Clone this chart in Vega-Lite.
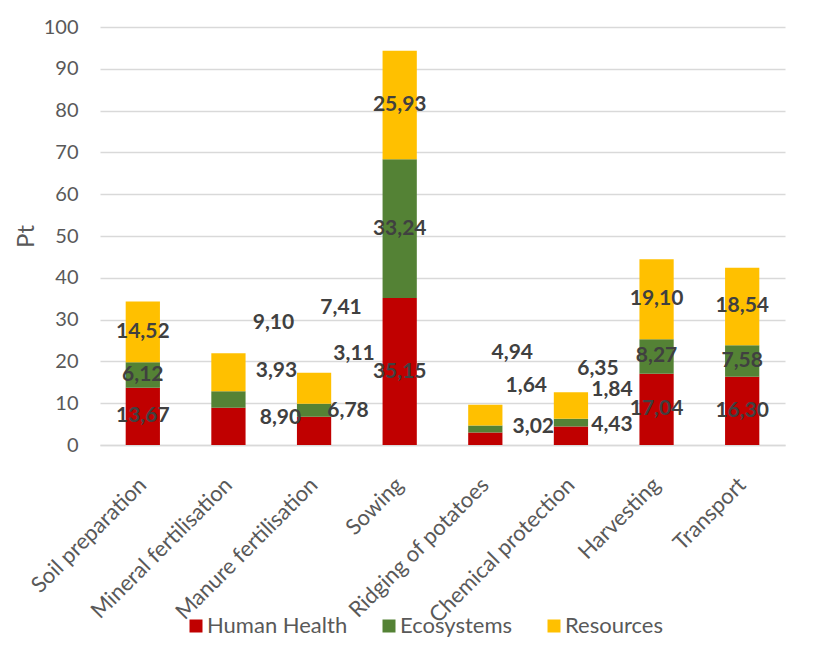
{
  "$schema": "https://vega.github.io/schema/vega-lite/v6.json",
  "width": 685,
  "height": 418,
  "autosize": {"type": "none"},
  "padding": {"left": 100, "top": 27, "right": 32, "bottom": 215},
  "background": "white",
  "data": {"values": [
    {"stage": "Soil preparation", "impact": "Human Health", "value": 13.67},
    {"stage": "Soil preparation", "impact": "Ecosystems", "value": 6.12},
    {"stage": "Soil preparation", "impact": "Resources", "value": 14.52},
    {"stage": "Mineral fertilisation", "impact": "Human Health", "value": 8.90},
    {"stage": "Mineral fertilisation", "impact": "Ecosystems", "value": 3.93},
    {"stage": "Mineral fertilisation", "impact": "Resources", "value": 9.10},
    {"stage": "Manure fertilisation", "impact": "Human Health", "value": 6.78},
    {"stage": "Manure fertilisation", "impact": "Ecosystems", "value": 3.11},
    {"stage": "Manure fertilisation", "impact": "Resources", "value": 7.41},
    {"stage": "Sowing", "impact": "Human Health", "value": 35.15},
    {"stage": "Sowing", "impact": "Ecosystems", "value": 33.24},
    {"stage": "Sowing", "impact": "Resources", "value": 25.93},
    {"stage": "Ridging of potatoes", "impact": "Human Health", "value": 3.02},
    {"stage": "Ridging of potatoes", "impact": "Ecosystems", "value": 1.64},
    {"stage": "Ridging of potatoes", "impact": "Resources", "value": 4.94},
    {"stage": "Chemical protection", "impact": "Human Health", "value": 4.43},
    {"stage": "Chemical protection", "impact": "Ecosystems", "value": 1.84},
    {"stage": "Chemical protection", "impact": "Resources", "value": 6.35},
    {"stage": "Harvesting", "impact": "Human Health", "value": 17.04},
    {"stage": "Harvesting", "impact": "Ecosystems", "value": 8.27},
    {"stage": "Harvesting", "impact": "Resources", "value": 19.10},
    {"stage": "Transport", "impact": "Human Health", "value": 16.30},
    {"stage": "Transport", "impact": "Ecosystems", "value": 7.58},
    {"stage": "Transport", "impact": "Resources", "value": 18.54}
  ]},
  "transform": [
    {"calculate": "indexof(['Human Health','Ecosystems','Resources'], datum.impact)", "as": "ord"},
    {"stack": "value", "groupby": ["stage"], "sort": [{"field": "ord", "order": "ascending"}], "as": ["v0", "v1"]},
    {"calculate": "(datum.v0 + datum.v1) / 2", "as": "mid"},
    {"calculate": "replace(format(datum.value, '.2f'), '.', ',')", "as": "label"}
  ],
  "encoding": {
    "x": {
      "field": "stage", "type": "nominal", "sort": null, "title": null,
      "scale": {"paddingInner": 0.6, "paddingOuter": 0.3},
      "axis": {"labelAngle": -45, "labelAlign": "right", "labelBaseline": "middle", "labelPadding": 36, "labelLimit": 400, "ticks": false, "domainColor": "#D9D9D9", "domainWidth": 1.5, "labelFontSize": 22, "labelColor": "#595959", "labelFont": "Lato", "grid": false}
    }
  },
  "layer": [
    {
      "mark": {"type": "bar"},
      "encoding": {
        "y": {"field": "v0", "type": "quantitative", "scale": {"domain": [0, 100], "nice": false},
          "axis": {"title": "Pt", "values": [0,10,20,30,40,50,60,70,80,90,100], "domain": false, "ticks": false, "gridColor": "#D9D9D9", "gridWidth": 1.5, "labelFontSize": 20, "labelColor": "#595959", "labelFont": "Lato", "labelPadding": 22, "titleFont": "Lato", "titleFontSize": 24, "titleFontWeight": "normal", "titleColor": "#595959", "titlePadding": 5}},
        "y2": {"field": "v1"},
        "color": {"field": "impact", "type": "nominal", "sort": null,
          "scale": {"domain": ["Human Health", "Ecosystems", "Resources"], "range": ["#C00000", "#548235", "#FFC000"]},
          "legend": {"title": null, "orient": "none", "legendX": 85, "legendY": 588, "direction": "horizontal", "symbolType": "square", "symbolSize": 169, "symbolStrokeWidth": 0, "labelFontSize": 22, "labelColor": "#595959", "labelFont": "Lato", "labelLimit": 300, "columnPadding": 30, "labelOffset": 0}}
      }
    },
    {
      "transform": [{"filter": "indexof(['Mineral fertilisation','Manure fertilisation','Ridging of potatoes','Chemical protection'], datum.stage) < 0"}],
      "mark": {"type": "text", "font": "Lato", "fontSize": 21, "fontWeight": "bold", "color": "#404040", "align": "center", "baseline": "middle"},
      "encoding": {"y": {"field": "mid", "type": "quantitative"}, "text": {"field": "label"}}
    },
    {"transform": [{"filter": "datum.stage == 'Mineral fertilisation' && datum.impact == 'Human Health'"}], "mark": {"type": "text", "font": "Lato", "fontSize": 21, "fontWeight": "bold", "color": "#404040", "align": "center", "baseline": "middle", "dx": 52, "dy": -8}, "encoding": {"y": {"field": "mid", "type": "quantitative"}, "text": {"field": "label"}}},
    {"transform": [{"filter": "datum.stage == 'Mineral fertilisation' && datum.impact == 'Ecosystems'"}], "mark": {"type": "text", "font": "Lato", "fontSize": 21, "fontWeight": "bold", "color": "#404040", "align": "center", "baseline": "middle", "dx": 48, "dy": -29}, "encoding": {"y": {"field": "mid", "type": "quantitative"}, "text": {"field": "label"}}},
    {"transform": [{"filter": "datum.stage == 'Mineral fertilisation' && datum.impact == 'Resources'"}], "mark": {"type": "text", "font": "Lato", "fontSize": 21, "fontWeight": "bold", "color": "#404040", "align": "center", "baseline": "middle", "dx": 45, "dy": -49}, "encoding": {"y": {"field": "mid", "type": "quantitative"}, "text": {"field": "label"}}},
    {"transform": [{"filter": "datum.stage == 'Manure fertilisation' && datum.impact == 'Human Health'"}], "mark": {"type": "text", "font": "Lato", "fontSize": 21, "fontWeight": "bold", "color": "#404040", "align": "center", "baseline": "middle", "dx": 34, "dy": -20}, "encoding": {"y": {"field": "mid", "type": "quantitative"}, "text": {"field": "label"}}},
    {"transform": [{"filter": "datum.stage == 'Manure fertilisation' && datum.impact == 'Ecosystems'"}], "mark": {"type": "text", "font": "Lato", "fontSize": 21, "fontWeight": "bold", "color": "#404040", "align": "center", "baseline": "middle", "dx": 40, "dy": -56}, "encoding": {"y": {"field": "mid", "type": "quantitative"}, "text": {"field": "label"}}},
    {"transform": [{"filter": "datum.stage == 'Manure fertilisation' && datum.impact == 'Resources'"}], "mark": {"type": "text", "font": "Lato", "fontSize": 21, "fontWeight": "bold", "color": "#404040", "align": "center", "baseline": "middle", "dx": 27, "dy": -80}, "encoding": {"y": {"field": "mid", "type": "quantitative"}, "text": {"field": "label"}}},
    {"transform": [{"filter": "datum.stage == 'Ridging of potatoes' && datum.impact == 'Human Health'"}], "mark": {"type": "text", "font": "Lato", "fontSize": 21, "fontWeight": "bold", "color": "#404040", "align": "center", "baseline": "middle", "dx": 48, "dy": -12}, "encoding": {"y": {"field": "mid", "type": "quantitative"}, "text": {"field": "label"}}},
    {"transform": [{"filter": "datum.stage == 'Ridging of potatoes' && datum.impact == 'Ecosystems'"}], "mark": {"type": "text", "font": "Lato", "fontSize": 21, "fontWeight": "bold", "color": "#404040", "align": "center", "baseline": "middle", "dx": 41, "dy": -43}, "encoding": {"y": {"field": "mid", "type": "quantitative"}, "text": {"field": "label"}}},
    {"transform": [{"filter": "datum.stage == 'Ridging of potatoes' && datum.impact == 'Resources'"}], "mark": {"type": "text", "font": "Lato", "fontSize": 21, "fontWeight": "bold", "color": "#404040", "align": "center", "baseline": "middle", "dx": 27, "dy": -62}, "encoding": {"y": {"field": "mid", "type": "quantitative"}, "text": {"field": "label"}}},
    {"transform": [{"filter": "datum.stage == 'Chemical protection' && datum.impact == 'Human Health'"}], "mark": {"type": "text", "font": "Lato", "fontSize": 21, "fontWeight": "bold", "color": "#404040", "align": "center", "baseline": "middle", "dx": 41, "dy": -11}, "encoding": {"y": {"field": "mid", "type": "quantitative"}, "text": {"field": "label"}}},
    {"transform": [{"filter": "datum.stage == 'Chemical protection' && datum.impact == 'Ecosystems'"}], "mark": {"type": "text", "font": "Lato", "fontSize": 21, "fontWeight": "bold", "color": "#404040", "align": "center", "baseline": "middle", "dx": 41, "dy": -33}, "encoding": {"y": {"field": "mid", "type": "quantitative"}, "text": {"field": "label"}}},
    {"transform": [{"filter": "datum.stage == 'Chemical protection' && datum.impact == 'Resources'"}], "mark": {"type": "text", "font": "Lato", "fontSize": 21, "fontWeight": "bold", "color": "#404040", "align": "center", "baseline": "middle", "dx": 27, "dy": -37}, "encoding": {"y": {"field": "mid", "type": "quantitative"}, "text": {"field": "label"}}}
  ],
  "config": {"view": {"stroke": null}, "legend": {"padding": 0}}
}
